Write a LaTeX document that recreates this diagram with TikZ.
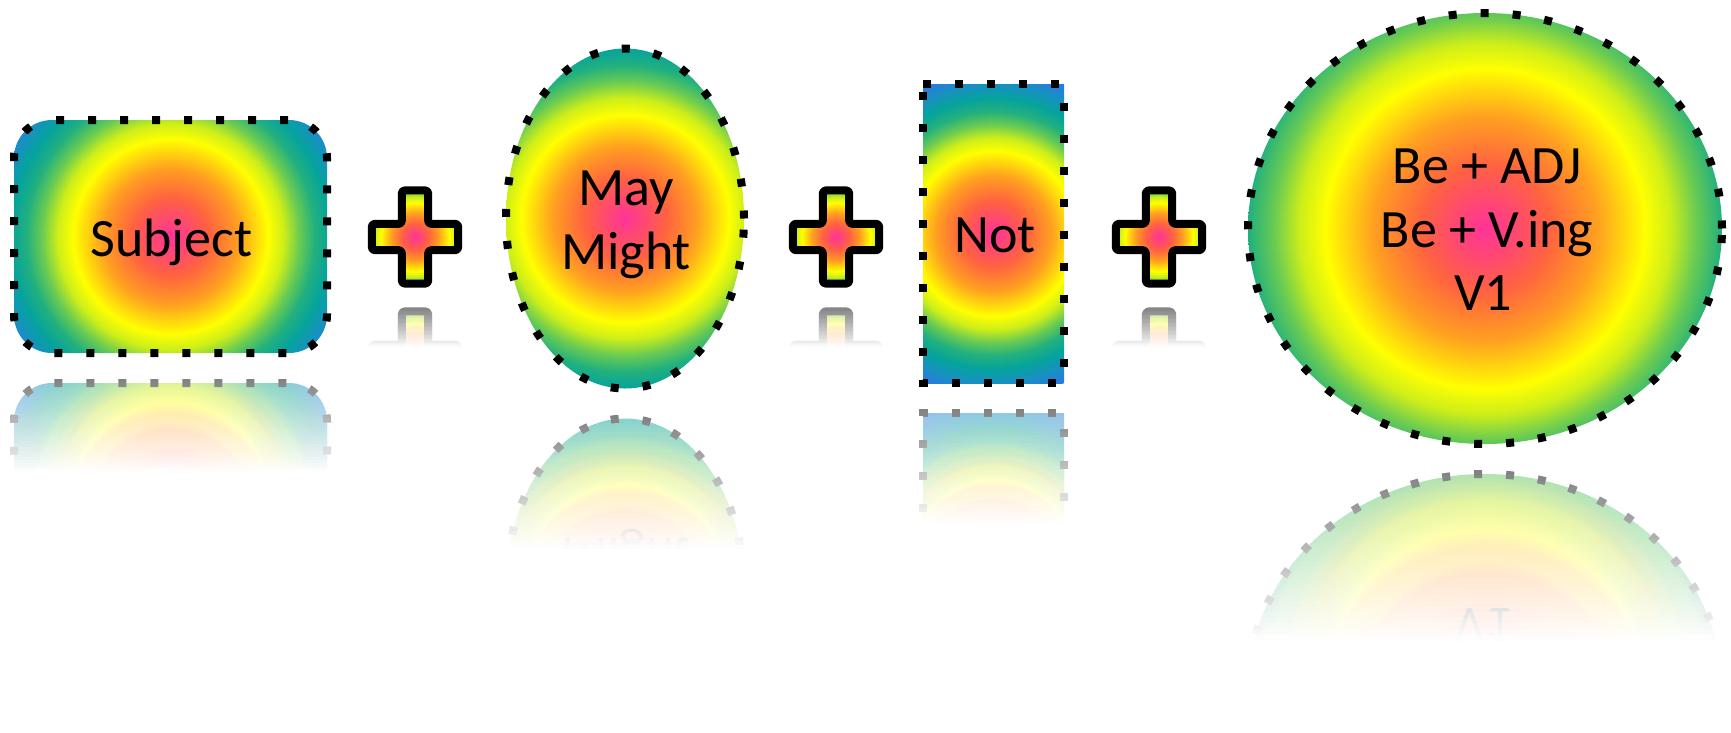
\documentclass[tikz,border=0pt]{standalone}
\usepackage{fontspec}
\newfontfamily\lblfont{Carlito}
\definecolor{g0}{HTML}{FF3399}
\definecolor{g1}{HTML}{FF4A6E}
\definecolor{g2}{HTML}{FF6340}
\definecolor{g3}{HTML}{FFA020}
\definecolor{g4}{HTML}{FFFF00}
\definecolor{g5}{HTML}{CDEE1A}
\definecolor{g6}{HTML}{6ACB52}
\definecolor{g7}{HTML}{22B07E}
\definecolor{g8}{HTML}{05A39D}
\definecolor{g9}{HTML}{1791C0}
\definecolor{g10}{HTML}{2C77E6}
\pgfdeclareradialshading{rainbow}{\pgfpointorigin}{%
  color(0bp)=(g0); color(2.5bp)=(g1); color(5bp)=(g2); color(8.75bp)=(g3);
  color(12.5bp)=(g4); color(14.5bp)=(g5); color(16.5bp)=(g6); color(18.5bp)=(g7);
  color(20.5bp)=(g8); color(22.5bp)=(g9); color(25bp)=(g10); color(50bp)=(g10)}
\tikzset{
  dotline/.style={draw=black, line width=8pt, dash pattern=on 8pt off 24pt},
  plusline/.style={draw=black, line width=8pt, line join=round},
  lbl/.style={font=\lblfont\fontsize{54}{64}\selectfont, inner sep=0pt, anchor=base, text=black},
}
% reflection cover: xmin, xmax, top, fade length, bottom
\newcommand\reflcover[5]{%
  \fill[white, opacity=0.5083] (#1,#3) rectangle (#2,#5);
  \foreach \i in {1,...,29}{%
    \pgfmathsetmacro\op{1/(30.5-\i)}%
    \fill[white, opacity=\op] (#1,{#3+\i*#4/30}) rectangle (#2,#5);}
  \fill[white] (#1,{#3+#4}) rectangle (#2,#5);
}
\newcommand\itemSubject[1]{%
  \begin{scope}
    \clip[rounded corners=38pt] (-156.5,-116.5) -- (156.5,-116.5) -- (156.5,116.5) -- (-156.5,116.5) -- cycle;
    \shade[shading=rainbow] (0,0) circle (195pt);
  \end{scope}
  \draw[dotline, dash phase=28pt, rounded corners=38pt] (-156.5,-116.5) -- (156.5,-116.5) -- (156.5,116.5) -- (-156.5,116.5) -- cycle;
  \node[lbl] (#1subject) at (1,19.5) {Subject};
}
\newcommand\itemMay[1]{%
  \begin{scope}
    \clip (0,0) ellipse [x radius=119pt, y radius=170pt];
    \shade[shading=rainbow] (0,0) circle (207.5pt);
  \end{scope}
  \draw[dotline] (0,0) ellipse [x radius=119pt, y radius=170pt];
  \node[lbl] (#1may) at (1,-13.5) {May};
  \node[lbl] (#1might) at (1,50.5) {Might};
}
\newcommand\itemNot[1]{%
  \begin{scope}
    \clip (-70.5,-149.5) -- (70.5,-149.5) -- (70.5,149.5) -- (-70.5,149.5) -- cycle;
    \shade[shading=rainbow] (0,0) circle (165.3pt);
  \end{scope}
  \draw[dotline] (-70.5,-149.5) -- (70.5,-149.5) -- (70.5,149.5) -- (-70.5,149.5) -- cycle;
  \node[lbl] (#1not) at (1.5,18.5) {Not};
}
\newcommand\bigshape{%
  \begin{scope}
    \clip (0,0) ellipse [x radius=237pt, y radius=215.5pt];
    \shade[shading=rainbow] (0,0) circle (320pt);
  \end{scope}
  \draw[dotline] (0,0) ellipse [x radius=237pt, y radius=215.5pt];
}
\newcommand\itemPlus{%
  \begin{scope}
    \clip (-13.2,-46.6) -- (13.2,-46.6) -- (13.2,-13.2) -- (43.2,-13.2) -- (43.2,13.2) -- (13.2,13.2) -- (13.2,46.6) -- (-13.2,46.6) -- (-13.2,13.2) -- (-43.2,13.2) -- (-43.2,-13.2) -- (-13.2,-13.2) -- cycle;
    \shade[shading=rainbow] (0,0) circle (68.6pt);
  \end{scope}
  \draw[plusline, rounded corners=3pt] (-13.2,-46.6) -- (13.2,-46.6) -- (13.2,-13.2) -- (43.2,-13.2) -- (43.2,13.2) -- (13.2,13.2) -- (13.2,46.6) -- (-13.2,46.6) -- (-13.2,13.2) -- (-43.2,13.2) -- (-43.2,-13.2) -- (-13.2,-13.2) -- cycle;
}
\begin{document}
\begin{tikzpicture}[x=1pt,y=-1pt]
\useasboundingbox[fill=white] (0,0) rectangle (1731,732);
% ---- reflections ----
\begin{scope}[shift={(170.5,499.5)}, yscale=-1, transform shape]\itemSubject{r}\end{scope}
\reflcover{8}{333}{378.5}{94}{626}
\foreach \px in {415,836,1159}{%
  \begin{scope}[shift={(\px,358)}, yscale=-1, transform shape]\itemPlus\end{scope}
  \reflcover{\px-52}{\px+52}{307}{40}{412}
}
\begin{scope}[shift={(625,588.5)}, yscale=-1, transform shape]\itemMay{r}\end{scope}
\reflcover{499}{751}{414}{135}{740}
\begin{scope}[shift={(993.5,562.5)}, yscale=-1, transform shape]\itemNot{r}\end{scope}
\reflcover{917}{1070}{408.5}{115}{725}
\begin{scope}[shift={(1485,689.5)}, yscale=-1, transform shape]
  \bigshape
  \node[lbl] (rving) at (2,18.5) {Be + V.ing};
  \node[lbl] (rvone) at (-2,81.5) {V1};
\end{scope}
\reflcover{1242}{1729}{469.5}{171}{740}
% ---- main shapes ----
\begin{scope}[shift={(170.5,236.5)}]\itemSubject{}\end{scope}
\begin{scope}[shift={(415,237)}]\itemPlus\end{scope}
\begin{scope}[shift={(625,218.5)}]\itemMay{}\end{scope}
\begin{scope}[shift={(836,237)}]\itemPlus\end{scope}
\begin{scope}[shift={(993.5,233.5)}]\itemNot{}\end{scope}
\begin{scope}[shift={(1159,237)}]\itemPlus\end{scope}
\begin{scope}[shift={(1485,228.5)}]
  \bigshape
  \node[lbl] (adj) at (2,-45.5) {Be + ADJ};
  \node[lbl] (ving) at (2,18.5) {Be + V.ing};
  \node[lbl] (vone) at (-2,81.5) {V1};
\end{scope}
\end{tikzpicture}
\end{document}
